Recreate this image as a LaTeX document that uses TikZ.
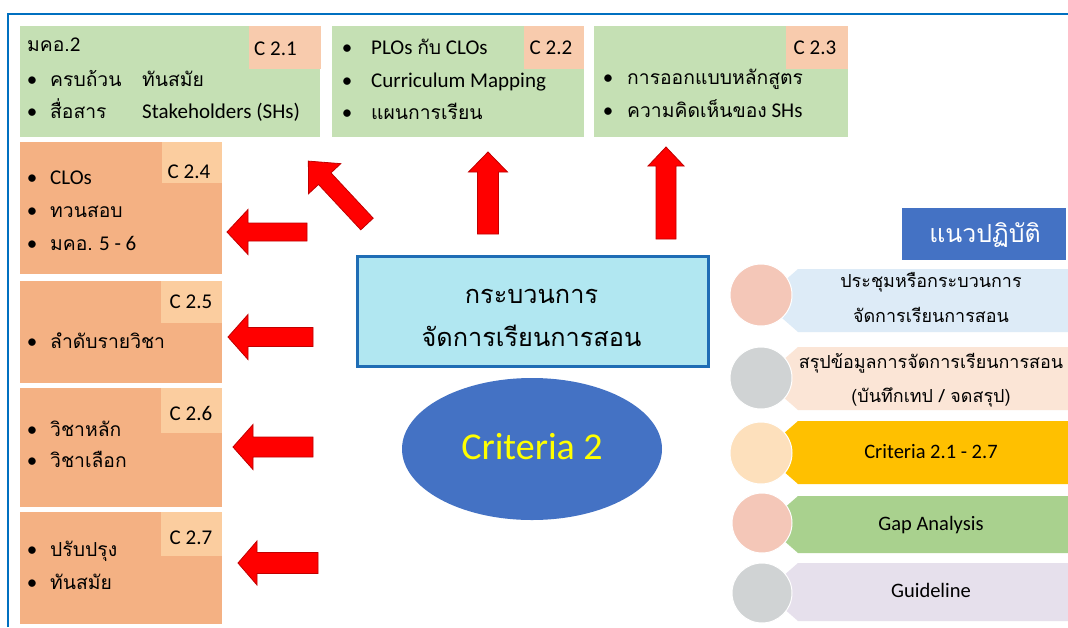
\documentclass[tikz,border=0pt]{standalone}
\usepackage{fontspec}
\setmainfont{Carlito}
\newfontfamily\thaifont[Script=Thai,Scale=0.92]{Loma}
\newcommand\T[1]{{\thaifont #1}}
\usetikzlibrary{shapes.geometric}
\definecolor{framebl}{HTML}{0070C0}
\definecolor{greenbox}{HTML}{C5E0B4}
\definecolor{greenlab}{HTML}{F8CBAD}
\definecolor{orangebox}{HTML}{F4B183}
\definecolor{orangelab}{HTML}{FBCD9F}
\definecolor{cyanbox}{HTML}{B1E7F1}
\definecolor{boxedge}{HTML}{1F6DB5}
\definecolor{ellblue}{HTML}{4472C4}
\definecolor{crit}{HTML}{FFFF00}
\definecolor{arrowred}{HTML}{FF0000}
\definecolor{arrowedge}{HTML}{C00000}
\definecolor{bar1}{HTML}{DDEBF7}
\definecolor{bar2}{HTML}{FBE5D6}
\definecolor{bar3}{HTML}{FFC000}
\definecolor{bar4}{HTML}{A9D18E}
\definecolor{bar5}{HTML}{E6E0EC}
\definecolor{dot1}{HTML}{F4C7B8}
\definecolor{dot2}{HTML}{D0D3D4}
\definecolor{dot3}{HTML}{FDE0BC}
\tikzset{
  gbox/.style={fill=greenbox, inner sep=0, outer sep=0, anchor=north west},
  obox/.style={fill=orangebox, inner sep=0, outer sep=0, anchor=north west},
  glab/.style={fill=greenlab, inner sep=0, outer sep=0, anchor=north west},
  olab/.style={fill=orangelab, inner sep=0, outer sep=0, anchor=north west},
  txt/.style={inner sep=0, anchor=base west, font=\fontsize{21}{25}\selectfont},
  labtxt/.style={inner sep=0, anchor=base, font=\fontsize{21}{25}\selectfont},
  bul/.style={inner sep=0, anchor=base, font=\fontsize{21}{25}\selectfont},
  bartxt/.style={inner sep=0, anchor=base, font=\fontsize{20.5}{24}\selectfont},
  barthai/.style={inner sep=0, anchor=base, font=\thaifont\fontsize{19.5}{24}\selectfont},
  proctxt/.style={inner sep=0, anchor=base, font=\thaifont\fontsize{27.5}{32}\selectfont},
  blockarrow/.style={fill=arrowred, draw=arrowedge, line width=0.8pt, line join=miter},
  bardot/.style={draw=white, line width=1pt},
}
% tail, angle, length, shaft half width, head half width, head length
\newcommand\blockarrow[6]{%
  \draw[blockarrow, shift={#1}, rotate=#2] (0,-#4) -- ({#3-#6},-#4) -- ({#3-#6},-#5) -- (#3,0)
    -- ({#3-#6},#5) -- ({#3-#6},#4) -- (0,#4) -- cycle;}
% top, bottom, colour
\newcommand\listbar[3]{%
  \fill[#3] (798,#1) -- (1068,#1) -- (1068,#2) -- (798,#2) -- (782,#2-14) -- (782,#1+14) -- cycle;}
\begin{document}
\begin{tikzpicture}[x=1pt,y=-1pt]
\useasboundingbox (0,0) rectangle (1068,627);
\fill[white] (0,0) rectangle (1068,627);
\draw[framebl, line width=2pt] (8,627) -- (8,14) -- (1068,14);

% ---- top green boxes
\node[gbox, minimum width=300, minimum height=111] (c21) at (20,26) {};
\node[glab, minimum width=72, minimum height=43] (l21) at (249,26) {};
\node[labtxt] (t21) at (275.5,55) {C 2.1};
\node[txt] (a21) at (27,51) {\T{มคอ.}2};
\node[bul] (b21a) at (32,86) {•};
\node[txt] (a21b) at (50,86) {\T{ครบถ้วน}};
\node[txt] (a21c) at (142,86) {\T{ทันสมัย}};
\node[bul] (b21b) at (32,118) {•};
\node[txt] (a21d) at (50,118) {\T{สื่อสาร}};
\node[txt] (a21e) at (142,118) {Stakeholders (SHs)};

\node[gbox, minimum width=252, minimum height=111] (c22) at (332,26) {};
\node[glab, minimum width=60, minimum height=43] (l22) at (524,26) {};
\node[labtxt] (t22) at (551,54) {C 2.2};
\node[bul] (b22a) at (347,54) {•};
\node[txt] (a22a) at (371,54) {PLOs \T{กับ} CLOs};
\node[bul] (b22b) at (347,87) {•};
\node[txt] (a22b) at (371,87) {Curriculum Mapping};
\node[bul] (b22c) at (347,119) {•};
\node[txt] (a22c) at (371,119) {\T{แผนการเรียน}};

\node[gbox, minimum width=254, minimum height=111] (c23) at (594,26) {};
\node[glab, minimum width=62, minimum height=43] (l23) at (786,26) {};
\node[labtxt] (t23) at (815,54) {C 2.3};
\node[bul] (b23a) at (608,84) {•};
\node[txt] (a23a) at (627,84) {\T{การออกแบบหลักสูตร}};
\node[bul] (b23b) at (608,117) {•};
\node[txt] (a23b) at (627,117) {\T{ความคิดเห็นของ} SHs};

% ---- left orange boxes
\node[obox, minimum width=202, minimum height=132] (c24) at (20,142) {};
\node[olab, minimum width=60, minimum height=41] (l24) at (162,142) {};
\node[labtxt] (t24) at (189,178) {C 2.4};
\node[bul] (b24a) at (32,184) {•};
\node[txt] (a24a) at (50,184) {CLOs};
\node[bul] (b24b) at (32,217) {•};
\node[txt] (a24b) at (50,217) {\T{ทวนสอบ}};
\node[bul] (b24c) at (32,250) {•};
\node[txt] (a24c) at (50,250) {\T{มคอ.} 5 - 6};

\node[obox, minimum width=202, minimum height=102] (c25) at (20,281) {};
\node[olab, minimum width=61, minimum height=42] (l25) at (161,281) {};
\node[labtxt] (t25) at (191,308) {C 2.5};
\node[bul] (b25a) at (32,348) {•};
\node[txt] (a25a) at (50,348) {\T{ลำดับรายวิชา}};

\node[obox, minimum width=202, minimum height=119] (c26) at (20,388) {};
\node[olab, minimum width=61, minimum height=45] (l26) at (161,388) {};
\node[labtxt] (t26) at (191,420) {C 2.6};
\node[bul] (b26a) at (32,436) {•};
\node[txt] (a26a) at (50,436) {\T{วิชาหลัก}};
\node[bul] (b26b) at (32,467) {•};
\node[txt] (a26b) at (50,467) {\T{วิชาเลือก}};

\node[obox, minimum width=202, minimum height=112] (c27) at (20,512) {};
\node[olab, minimum width=61, minimum height=44] (l27) at (161,512) {};
\node[labtxt] (t27) at (191,544) {C 2.7};
\node[bul] (b27a) at (32,556) {•};
\node[txt] (a27a) at (50,556) {\T{ปรับปรุง}};
\node[bul] (b27b) at (32,589) {•};
\node[txt] (a27b) at (50,589) {\T{ทันสมัย}};

% ---- centre
\node[fill=cyanbox, draw=boxedge, line width=2.5pt, minimum width=351, minimum height=110,
      inner sep=0, anchor=north west] (proc) at (356,255) {};
\node[proctxt] (p1) at (531.5,303) {กระบวนการ};
\node[proctxt] (p2) at (531.5,346) {จัดการเรียนการสอน};

\node[ellipse, fill=ellblue, minimum width=260, minimum height=142, inner sep=0] (ell) at (532,449) {};
\node[inner sep=0, anchor=base, text=crit, font=\fontsize{38}{44}\selectfont] (crit2) at (532,459) {Criteria 2};

% ---- arrows
\blockarrow{(307,232)}{180}{80}{9}{22.5}{21}
\blockarrow{(313,337)}{180}{85}{9.5}{22.5}{20}
\blockarrow{(313,447)}{180}{80}{10}{22.5}{20}
\blockarrow{(318,563)}{180}{80}{10.5}{22}{19}
\blockarrow{(488,234)}{90}{82}{10.5}{19.5}{20}
\blockarrow{(666,239)}{90}{92}{10}{18}{19}
\blockarrow{(367,224)}{133}{86}{8.5}{22}{24}

% ---- right list
\node[fill=ellblue, minimum width=164, minimum height=52, inner sep=0, anchor=north west] (hdr) at (902,208) {};
\node[inner sep=0, anchor=base, text=white, font=\thaifont\fontsize{27}{30}\selectfont] (hdrt) at (985,242) {แนวปฏิบัติ};

\listbar{269}{332}{bar1}
\listbar{347}{410}{bar2}
\listbar{421}{484}{bar3}
\listbar{496}{553}{bar4}
\listbar{563}{621}{bar5}
\filldraw[dot1, bardot] (761,295) circle (31);
\filldraw[dot2, bardot] (761,378) circle (31);
\filldraw[dot3, bardot] (761,453) circle (31);
\filldraw[dot1, bardot] (762,523) circle (30);
\filldraw[dot2, bardot] (762,593) circle (30);

\node[barthai] (r1a) at (931,287) {ประชุมหรือกระบวนการ};
\node[barthai] (r1b) at (931,322) {จัดการเรียนการสอน};
\node[barthai] (r2a) at (931,368) {สรุปข้อมูลการจัดการเรียนการสอน};
\node[barthai] (r2b) at (931,402) {(บันทึกเทป / จดสรุป)};
\node[bartxt] (r3) at (931,458) {Criteria 2.1 - 2.7};
\node[bartxt] (r4) at (931,530) {Gap Analysis};
\node[bartxt] (r5) at (931,597) {Guideline};
\end{tikzpicture}
\end{document}
